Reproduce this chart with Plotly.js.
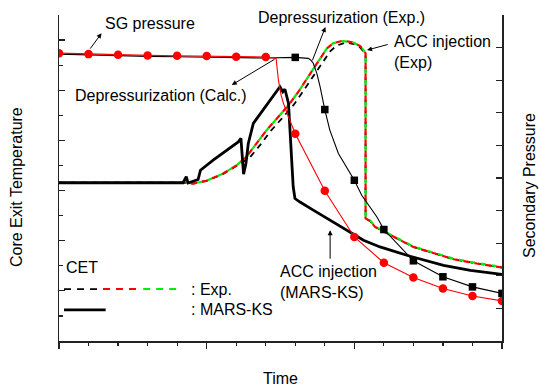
<!DOCTYPE html>
<html>
<head>
<meta charset="utf-8">
<script src="https://cdn.plot.ly/plotly-3.0.1.min.js"></script>
<style>html,body{margin:0;padding:0;background:#fff;}#chart{width:539px;height:387px;}</style>
</head>
<body>
<div id="chart"></div>
<script>
// ---- Data (arbitrary units; x = time, left y = CET, right y = SG pressure) ----
// SG pressure, calculation (red line + circles)
const timeCalc = [0,1,2,3,4,5,6,7,7.35,7.43,7.52,7.60,7.77,8,9,10,11,12,13,14,15];
const sgCalc   = [8.83,8.80,8.78,8.76,8.75,8.74,8.72,8.71,8.67,8.00,7.54,7.29,6.88,6.36,4.61,3.19,2.40,1.95,1.61,1.38,1.23];
const timeCalcMark = [0,1,2,3,4,5,6,7,8,9,10,11,12,13,14,15];
const sgCalcMark   = [8.83,8.80,8.78,8.76,8.75,8.74,8.72,8.71,6.36,4.61,3.19,2.40,1.95,1.61,1.38,1.23];

// SG pressure, experiment (black line + squares)
const timeExpSG = [0,1,2,3,4,5,6,7,8,8.44,8.52,8.61,8.73,8.84,9,9.17,9.46,10,10.25,10.44,10.76,11,12,13,14,15];
const sgExp     = [8.80,8.77,8.75,8.73,8.72,8.71,8.69,8.68,8.70,8.67,8.62,8.52,8.21,7.80,7.10,6.47,5.75,4.93,4.47,4.22,3.81,3.42,2.46,1.97,1.66,1.46];
const timeExpMark = [8,9,10,11,12,13,14,15];
const sgExpMark   = [8.70,7.10,4.93,3.42,2.46,1.97,1.66,1.46];

// CET, MARS-KS (thick black)
const timeMars = [0,4.20,4.31,4.37,4.71,4.79,5.22,5.68,6.07,6.16,6.22,6.25,6.33,6.41,6.58,6.86,7.20,7.43,7.48,7.58,7.65,7.77,7.82,7.88,7.93,7.99,8.16,8.61,9.18,9.75,10.31,10.87,11.89,13.02,13.93,15];
const cetMars  = [6.31,6.31,6.55,6.30,6.44,6.81,7.21,7.61,7.94,8.08,6.81,6.65,7.08,7.88,8.68,9.14,9.68,10.09,10.14,9.94,10.04,9.48,8.41,7.01,6.15,5.68,5.54,5.22,4.82,4.42,4.02,3.75,3.38,3.02,2.82,2.66];

// CET, experiment (three thermocouples: black, red, green dashed)
const timeExpBlack = [0,4.32,4.54,5.00,5.56,6.02,6.45,6.80,7.15,7.55,7.95,8.22,8.45,8.72,9.00,9.18,9.40,9.70,10.00,10.20,10.31,10.38,10.38,10.54,10.70,10.99,11.44,12.00,12.68,13.36,14.15,15];
const cetExpBlack  = [6.31,6.31,6.28,6.39,6.66,6.98,7.30,7.80,8.35,8.88,9.42,9.88,10.28,10.74,11.25,11.55,11.78,11.90,11.84,11.70,11.55,11.42,4.89,4.78,4.55,4.38,4.09,3.75,3.49,3.26,3.09,2.93];
const timeExpRed = [0,4.32,4.54,5.00,5.56,6.02,6.35,6.69,7.03,7.43,7.82,8.10,8.33,8.61,8.90,9.07,9.29,9.63,9.97,10.20,10.31,10.38,10.38,10.54,10.70,10.99,11.44,12.00,12.68,13.36,14.15,15];
const cetExpRed  = [6.31,6.31,6.28,6.39,6.68,7.01,7.35,7.88,8.41,8.94,9.48,9.93,10.34,10.81,11.34,11.67,11.88,11.98,11.90,11.76,11.60,11.47,4.89,4.78,4.55,4.38,4.09,3.75,3.49,3.26,3.09,2.93];
const timeExpGreen = [0,4.32,4.54,5.00,5.56,6.02,6.35,6.69,7.03,7.43,7.82,8.10,8.33,8.61,8.90,9.07,9.29,9.63,9.97,10.20,10.31,10.38,10.38,10.54,10.70,10.99,11.44,12.00,12.68,13.36,14.15,15];
const cetExpGreen  = [6.31,6.31,6.28,6.39,6.68,7.01,7.35,7.88,8.41,8.94,9.48,9.93,10.34,10.81,11.34,11.67,11.88,11.96,11.90,11.76,11.60,11.47,4.89,4.80,4.57,4.40,4.11,3.77,3.51,3.28,3.11,2.95];

// ---- Styling ----
const FONT = 'Liberation Sans, Arial, Helvetica, sans-serif';
const AX = '#222';

const traces = [
  {x: timeExpBlack, y: cetExpBlack, mode: 'lines', line: {color: '#000', width: 1.8, dash: '6px,5px'}, yaxis: 'y'},
  {x: timeExpGreen, y: cetExpGreen, mode: 'lines', line: {color: '#00ee00', width: 2.2, dash: '0px,6px,5px,0px'}, yaxis: 'y'},
  {x: timeExpRed, y: cetExpRed, mode: 'lines', line: {color: '#ff0000', width: 2.2, dash: '6px,5px'}, yaxis: 'y'},
  {x: timeMars, y: cetMars, mode: 'lines', line: {color: '#000', width: 2.8}, yaxis: 'y'},
  {x: timeExpSG, y: sgExp, mode: 'lines', line: {color: '#000', width: 1.1}, yaxis: 'y2'},
  {x: timeExpMark, y: sgExpMark, mode: 'markers', marker: {symbol: 'square', color: '#000', size: 7.5}, yaxis: 'y2'},
  {x: timeCalc, y: sgCalc, mode: 'lines', line: {color: '#ff0000', width: 1.1}, yaxis: 'y2'},
  {x: timeCalcMark, y: sgCalcMark, mode: 'markers', marker: {symbol: 'circle', color: '#ff0000', size: 8.5}, yaxis: 'y2'}
];

const txt = (text, x, y, opts) => Object.assign({
  text: text, x: x, y: y, xref: 'x', yref: 'y', showarrow: false,
  font: {family: FONT, size: 16, color: '#000'}, xanchor: 'center', yanchor: 'middle'
}, opts || {});
const arrow = (hx, hy, tx, ty) => ({
  text: '', x: hx, y: hy, xref: 'x', yref: 'y', ax: tx, ay: ty, axref: 'x', ayref: 'y',
  showarrow: true, arrowhead: 2, arrowsize: 1, arrowwidth: 1, arrowcolor: '#000', standoff: 0, startstandoff: 0
});

const annotations = [
  txt('SG pressure', 3.07, 12.66),
  arrow(1.44, 12.27, 1.02, 11.6),
  txt('Depressurization (Calc.)', 3.44, 9.81),
  arrow(5.85, 10.21, 7.35, 11.27),
  txt('Depressurization (Exp.)', 9.56, 12.92),
  arrow(9.02, 12.52, 8.56, 11.13),
  txt('ACC injection<br>(Exp)', 11.28, 11.54, {xanchor: 'left', align: 'left'}),
  arrow(10.43, 11.60, 11.18, 11.84),
  txt('ACC injection<br>(MARS-KS)', 7.40, 2.36, {xanchor: 'left', align: 'left'}),
  arrow(9.18, 4.42, 9.18, 3.22),
  txt('CET', 0.18, 2.94, {xanchor: 'left'}),
  txt(': Exp.', 4.40, 2.07, {xanchor: 'left'}),
  txt(': MARS-KS', 4.40, 1.24, {xanchor: 'left'}),
  // axis titles
  {text: 'Time', xref: 'paper', yref: 'paper', x: 0.5, y: 0, yshift: -37, xanchor: 'center', yanchor: 'middle', showarrow: false, font: {family: FONT, size: 16, color: '#000'}},
  {text: 'Core Exit Temperature', xref: 'paper', yref: 'paper', x: 0, y: 0.5, xshift: -43, yshift: -9, textangle: -90, xanchor: 'center', yanchor: 'middle', showarrow: false, font: {family: FONT, size: 16, color: '#000'}},
  {text: 'Secondary Pressure', xref: 'paper', yref: 'paper', x: 1, y: 0.5, xshift: 27, yshift: -8, textangle: -90, xanchor: 'center', yanchor: 'middle', showarrow: false, font: {family: FONT, size: 16, color: '#000'}}
];

// legend samples (not data)
const shapes = [
  {type: 'line', xref: 'x', yref: 'y', x0: 0.17, x1: 1.48, y0: 2.07, y1: 2.07, line: {color: '#000', width: 1.8, dash: '7px,6px'}},
  {type: 'line', xref: 'x', yref: 'y', x0: 1.49, x1: 2.80, y0: 2.07, y1: 2.07, line: {color: '#ff0000', width: 2, dash: '7px,6px'}},
  {type: 'line', xref: 'x', yref: 'y', x0: 2.85, x1: 4.12, y0: 2.07, y1: 2.07, line: {color: '#00ee00', width: 2, dash: '7px,6px'}},
  {type: 'line', xref: 'x', yref: 'y', x0: 0.17, x1: 1.58, y0: 1.24, y1: 1.24, line: {color: '#000', width: 2.8}}
];

const layout = {
  width: 539, height: 387,
  margin: {l: 59, r: 37, t: 15, b: 46, pad: 0},
  paper_bgcolor: '#fff', plot_bgcolor: '#fff',
  showlegend: false, hovermode: false,
  font: {family: FONT, size: 16, color: '#000'},
  xaxis: {
    range: [0, 15], showgrid: false, zeroline: false, showline: true, linecolor: AX, linewidth: 1.5,
    ticks: 'outside', tick0: 0, dtick: 5, ticklen: 6, tickwidth: 1.2, tickcolor: AX, showticklabels: false,
    minor: {ticks: 'outside', dtick: 1, ticklen: 3.5, tickwidth: 1.2, tickcolor: AX, showgrid: false}
  },
  yaxis: {
    range: [0, 13], showgrid: false, zeroline: false, showline: true, linecolor: AX, linewidth: 1.5,
    ticks: 'inside', tick0: 0, dtick: 2, ticklen: 6, tickwidth: 1.2, tickcolor: AX, showticklabels: false,
    minor: {ticks: 'inside', dtick: 1, ticklen: 4, tickwidth: 1.2, tickcolor: AX, showgrid: false}
  },
  yaxis2: {
    overlaying: 'y', side: 'right', range: [0, 10], showgrid: false, zeroline: false, showline: true,
    linecolor: AX, linewidth: 1.5, ticks: 'inside', tick0: 0, dtick: 1, ticklen: 6, tickwidth: 1.2,
    tickcolor: AX, showticklabels: false
  },
  annotations: annotations,
  shapes: shapes
};

Plotly.newPlot('chart', traces, layout, {displayModeBar: false, staticPlot: true});
</script>
</body>
</html>
